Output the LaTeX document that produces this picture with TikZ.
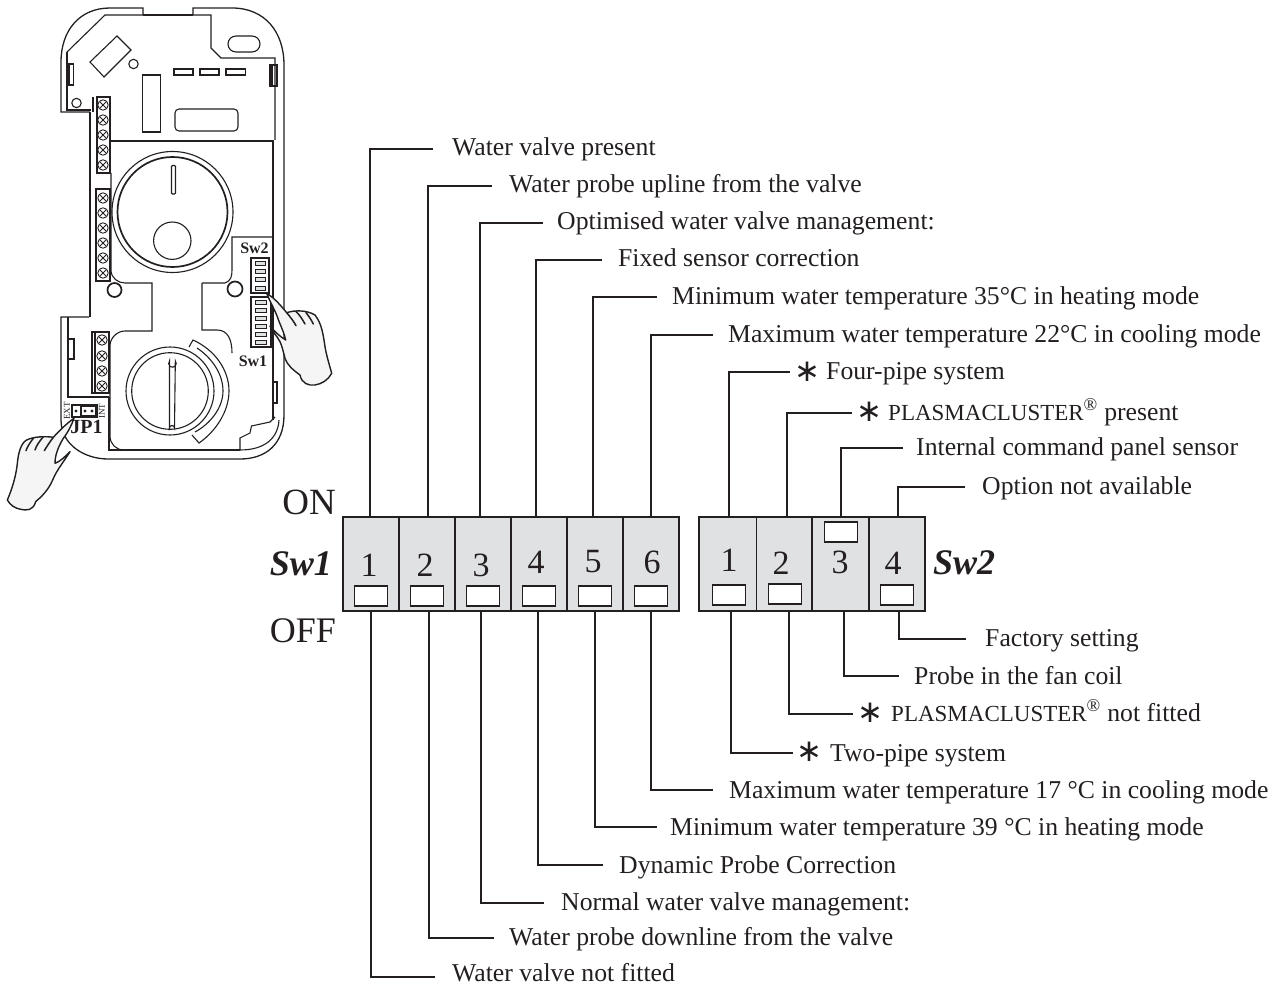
\documentclass[tikz,border=0pt]{standalone}
\usepackage{fontspec}
\setmainfont{Liberation Serif}
\newfontfamily\symfont{DejaVu Sans}
\usetikzlibrary{calc}
\definecolor{swgray}{HTML}{E0E1E3}
\definecolor{ink}{HTML}{231F20}
\tikzset{
  swbox/.style={draw=ink,line width=1.5pt,fill=swgray,minimum width=56pt,minimum height=94pt,inner sep=0pt,outer sep=0pt},
  slider/.style={draw=ink,line width=1.6pt,fill=white,minimum width=33pt,minimum height=20pt,inner sep=0pt},
  numlab/.style={font=\fontsize{34}{34}\selectfont,text=ink,inner sep=0pt},
  leadtxt/.style={anchor=base west,font=\fontsize{25.7}{27}\selectfont,text=ink,inner sep=0pt},
  leadline/.style={draw=ink,line width=1.3pt},
  biglab/.style={font=\fontsize{37}{37}\selectfont,text=ink,inner sep=0pt},
  swlab/.style={font=\fontsize{36}{36}\selectfont\bfseries\itshape,text=ink,inner sep=0pt},
  dev/.style={draw=ink,line width=1.1pt},
  devthick/.style={draw=ink,line width=1.7pt},
  smallb/.style={font=\fontsize{16}{16}\selectfont\bfseries,text=ink,inner sep=0pt},
  hand/.style={draw=ink,line width=1.4pt,fill=black!4,line join=round},
  fingerline/.style={draw=ink,line width=1.5pt,line cap=round},
  stripbtn/.style={draw=ink,line width=0.7pt,fill=swgray},
}
\newcommand{\plasma}{{\fontsize{23}{23}\selectfont PLASMACLUSTER}\textsuperscript{®}}
% \leader{name}{switch}{dx}{side}{line y}{endx}{textx}{baseline}{text}
\newcommand{\leader}[9]{%
  \node[leadtxt] (t#1) at (#7,#8) {#9};
  \coordinate (e#1) at (#6,#5);
  \draw[leadline] (e#1) -| ([xshift=#3pt]#2.#4);
}
\newcommand{\starmark}[2]{\node[inner sep=0pt,font=\symfont\fontsize{31}{31}\selectfont,text=ink] (#1) at (#2) {∗};}
\newcommand{\screw}[2]{%
  \draw[dev,line width=0.9pt] (#1,#2) circle (5.2);
  \draw[dev,line width=0.8pt] (#1-3.2,#2-3.2) -- (#1+3.2,#2+3.2) (#1-3.2,#2+3.2) -- (#1+3.2,#2-3.2);
}
\begin{document}
\begin{tikzpicture}[x=1pt,y=-1pt]
\useasboundingbox (0,0) rectangle (1279,984);
% ---------- device
\draw[dev,line width=1.3pt] (143,15) -- (143,8) -- (110,8) .. controls (80,8) and (61,30) .. (61,62) -- (61,112) -- (90,112);
\draw[dev,line width=1.3pt] (193,15) -- (193,8) -- (232,8) .. controls (265,8) and (284,32) .. (284,65) -- (284,415) .. controls (284,445) and (265,459) .. (240,459) -- (108,459) .. controls (85,459) and (61,445) .. (61,420) -- (61,317) -- (89,317);
\draw[devthick,line width=2pt] (90,112) -- (90,317);
\draw[dev] (93,97) -- (93,112);
\draw[dev] (143,15) -- (193,15);
\draw[dev] (67,52) -- (105,15) -- (211,15) -- (211,48) -- (221,58) -- (275,58) -- (275,140);
\draw[dev] (67,52) -- (67,110) -- (91,110);
% top details
\draw[dev] (90,62) -- (117,36) -- (131,50) -- (104,77) -- cycle;
\draw[dev] (133.5,64) circle (4.7);
\draw[dev] (76.5,103) circle (4.7);
\draw[dev] (142.5,75) rectangle (160.5,132);
\draw[dev] (174,69) rectangle (193,75);
\draw[dev] (200,69) rectangle (219,75);
\draw[dev] (226,69) rectangle (245.5,75);
\draw[dev,rounded corners=4pt] (175,109) rectangle (238,131);
\draw[dev,rounded corners=8pt] (228,36) rectangle (260,52);
\draw[dev] (67,64) rectangle (73.5,85);
\draw[dev] (270,65) rectangle (277,86);
\draw[dev] (272,65) -- (272,86);
\draw[dev] (69,64) -- (69,85);
% terminals
\draw[dev] (97,97) rectangle (110,173);
\draw[dev] (96,189) rectangle (110,281);
\draw[dev] (92,332) rectangle (109,393);
\draw[dev] (95,332) -- (95,393);
\foreach \yy in {105,120,135,150,165} {\screw{103}{\yy}}
\foreach \yy in {198,213,228,243,258,273} {\screw{103}{\yy}}
\foreach \yy in {340,356,371,386} {\screw{102}{\yy}}
% panel
\draw[dev] (110,141) -- (273,141) -- (273,420);
\draw[dev] (111,173) -- (111,270) .. controls (111,278) and (118,283) .. (125,283) -- (152,283) -- (152,331) -- (125,331) .. controls (117,331) and (110,338) .. (110,346) -- (110,436) .. controls (110,444) and (116,450) .. (124,450);
\draw[devthick] (109,397) -- (109,450) -- (240,450);
\draw[dev] (68,317) -- (68,397) -- (109,397);
\draw[dev] (202,283) -- (225,283) .. controls (231,281) and (232,276) .. (232,270) -- (232,237) -- (273,237);
\draw[dev] (202,283) -- (202,330) -- (217,330) .. controls (228,330) and (232,340) .. (232,353);
% dial top
\draw[dev] (172.5,212) circle (60.5);
\draw[devthick] (172.5,212) circle (55);
\draw[dev,rounded corners=1pt] (171.5,165.5) rectangle (175.5,194);
\draw[dev] (172.3,240.7) circle (18.7);
% dial bottom
\draw[dev] (170,391) circle (44);
\draw[dev] (170,391) circle (38.3);
\draw[dev] (169.5,361) arc[start angle=220,end angle=-40,radius=3.8] -- (174.5,428) arc[start angle=0,end angle=-180,radius=2.5] -- cycle;
\draw[dev] (189,347) -- (193,340) .. controls (215,350) and (229,370) .. (229,391) .. controls (229,412) and (215,432) .. (199,443) -- (192,435);
\draw[dev] (197,348) .. controls (212,358) and (223,374) .. (223,391) .. controls (223,408) and (210,424) .. (195,432);
% bottom right corner
\draw[dev] (240,450) -- (240,438) -- (250,433) -- (251.5,426) -- (270,422) -- (275,417);
\draw[dev] (279,420) .. controls (278,438) and (265,450) .. (240,450);
\draw[dev] (273,382) rectangle (277,403);
% clips and circles
\draw[dev] (68,339) rectangle (74,359);
\draw[devthick] (114.5,290) circle (7);
\draw[devthick] (235,289) circle (7.5);
% Sw strips
\draw[dev] (251,258) rectangle (269,293);
\draw[dev] (251,297) rectangle (271,347);
\foreach \yy in {261,269,277,286} {\draw[stripbtn] (255,\yy) rectangle (265,\yy+4);}
\foreach \yy in {300,308,316,324,332,340} {\draw[stripbtn] (255,\yy) rectangle (266,\yy+4);}
\node[smallb] (swtwo) at (254.5,248.5) {Sw2};
\node[smallb] (swone) at (253,361) {Sw1};
% JP1
\draw[dev] (72,405) rectangle (97,417);
\draw[devthick] (81,406) rectangle (96,416);
\fill[ink] (76,411) circle (1.7) (85,411) circle (1.7) (92,411) circle (1.7);
\node[smallb,font=\fontsize{9}{9}\selectfont] (jpext) at (67,411) [rotate=90] {EXT};
\node[smallb,font=\fontsize{9}{9}\selectfont] (jpint) at (102,411) [rotate=90] {INT};
\node[smallb,font=\fontsize{20}{20}\selectfont\bfseries] (jpone) at (86.5,427) {JP1};
% hands
\begin{scope}[shift={(0,260)},scale=1/3]
\draw[hand] (800,100) .. controls (825,115) and (845,140) .. (860,158) .. controls (885,150) and (920,150) .. (945,165) .. controls (965,190) and (970,225) .. (975,260) .. controls (980,290) and (990,320) .. (995,340) .. controls (985,360) and (965,372) .. (945,375) .. controls (925,378) and (905,370) .. (900,345) .. controls (880,330) and (865,320) .. (855,295) .. controls (850,275) and (845,255) .. (840,245) .. controls (830,225) and (815,215) .. (810,198) .. controls (825,215) and (840,230) .. (857,240) .. controls (850,210) and (840,195) .. (832,170) .. controls (822,145) and (810,125) .. (800,100) -- cycle;
\draw[fingerline] (860,158) .. controls (870,170) and (882,185) .. (888,197);
\draw[fingerline] (888,155) .. controls (900,165) and (908,180) .. (915,192);
\draw[fingerline] (918,158) .. controls (928,170) and (935,182) .. (940,192);
\draw[hand] (222,475) .. controls (200,490) and (175,515) .. (160,532) .. controls (135,528) and (100,530) .. (80,540) .. controls (62,550) and (55,580) .. (52,610) .. controls (48,650) and (35,690) .. (22,720) .. controls (30,735) and (45,745) .. (62,748) .. controls (80,752) and (100,752) .. (107,725) .. controls (125,710) and (145,690) .. (158,660) .. controls (170,630) and (195,600) .. (210,575) .. controls (195,590) and (180,605) .. (165,610) .. controls (165,585) and (175,560) .. (190,535) .. controls (205,515) and (215,495) .. (222,475) -- cycle;
\draw[fingerline] (160,532) .. controls (150,545) and (140,560) .. (133,572);
\draw[fingerline] (130,530) .. controls (118,545) and (110,555) .. (105,570);
\draw[fingerline] (100,535) .. controls (90,548) and (82,560) .. (78,572);
\end{scope}
% ---------- switches
\foreach \nm/\xx in {a/371,b/427,c/483,d/539,e/595,f/651} {\node[swbox] (sw\nm) at (\xx,564) {};}
\node[swbox,minimum width=58pt] (swg) at (728,564) {};
\node[swbox,minimum width=56pt] (swh) at (784.5,564) {};
\node[swbox,minimum width=57pt] (swi) at (840.5,564) {};
\node[swbox,minimum width=56pt] (swj) at (897,564) {};
\foreach \nm/\xx/\yy/\nn in {a/369/565/1,b/425/565/2,c/481/565/3,d/536/562/4,e/593/562/5,f/652/562/6,g/729/560/1,h/781/563/2,i/840/562/3,j/893/563/4} {\node[numlab] (n\nm) at (\xx,\yy) {\nn};}
\foreach \nm/\xx/\yy in {a/371/596,b/427/596,c/483/596,d/539/596,e/595/596,f/651/596,g/729/595,h/785/594,i/841/532,j/897/595} {\node[slider] (sl\nm) at (\xx,\yy) {};}
\node[biglab,anchor=east] (on) at (336,502) {ON};
\node[biglab,anchor=east,font=\fontsize{36}{36}\selectfont] (off) at (336,631) {OFF};
\node[swlab,anchor=east] (lsw1) at (332,564) {Sw1};
\node[swlab,anchor=west] (lsw2) at (933,563) {Sw2};
% ---------- leaders
\leader{a}{swa}{-1}{north}{149}{433}{452}{156}{Water valve present}
\leader{b}{swb}{1}{north}{186}{492}{509}{193}{Water probe upline from the valve}
\leader{c}{swc}{-3}{north}{223}{543}{557}{230}{Optimised water valve management:}
\leader{d}{swd}{-3}{north}{260}{602}{618}{267}{Fixed sensor correction}
\leader{e}{swe}{-2}{north}{297}{657}{672}{305}{Minimum water temperature 35°C in heating mode}
\leader{f}{swf}{0}{north}{335}{713}{728}{342}{Maximum water temperature 22°C in cooling mode}
\leader{g}{swg}{1}{north}{372}{790}{826}{379}{Four-pipe system}
\leader{h}{swh}{2.5}{north}{413}{852}{888}{420}{\plasma{} present}
\leader{i}{swi}{0.5}{north}{448}{903}{916}{455}{Internal command panel sensor}
\leader{j}{swj}{1}{north}{487}{965}{982}{494}{Option not available}
\leader{k}{swa}{0}{south}{977}{435}{452}{981}{Water valve not fitted}
\leader{l}{swb}{2}{south}{938}{494}{509}{945}{Water probe downline from the valve}
\leader{m}{swc}{-2}{south}{903}{544}{561}{910}{Normal water valve management:}
\leader{n}{swd}{-1}{south}{865}{603}{619}{873}{Dynamic Probe Correction}
\leader{o}{swe}{0}{south}{827}{657}{670}{835}{Minimum water temperature 39 °C in heating mode}
\leader{p}{swf}{0}{south}{790}{713}{729}{798}{Maximum water temperature 17 °C in cooling mode}
\leader{q}{swg}{3}{south}{753}{793}{830}{761}{Two-pipe system}
\leader{r}{swh}{4.5}{south}{714}{853}{891}{721}{\plasma{} not fitted}
\leader{s}{swi}{3.5}{south}{676}{899}{914}{684}{Probe in the fan coil}
\leader{u}{swj}{2}{south}{639}{966}{985}{646}{Factory setting}
\starmark{stg}{807,372}
\starmark{sth}{869,412}
\starmark{stq}{809,752}
\starmark{str}{870,713}
\end{tikzpicture}
\end{document}
